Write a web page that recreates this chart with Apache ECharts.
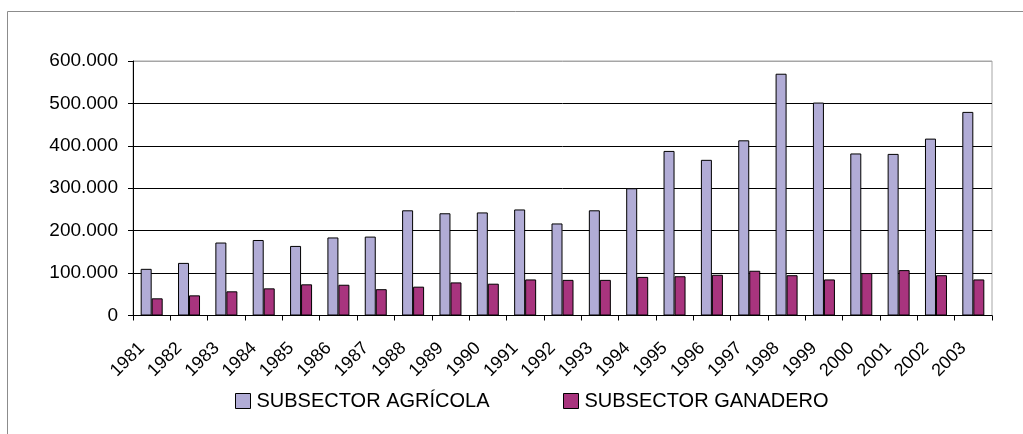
<!DOCTYPE html>
<html>
<head>
<meta charset="utf-8">
<script src="https://cdn.jsdelivr.net/npm/echarts@6/dist/echarts.min.js"></script>
<style>
html,body{margin:0;padding:0;background:#fff;}
#c{width:1023px;height:434px;}
</style>
</head>
<body>
<div id="c"></div>
<script>
const years = ['1981','1982','1983','1984','1985','1986','1987','1988','1989','1990','1991','1992','1993','1994','1995','1996','1997','1998','1999','2000','2001','2002','2003'];
const agricola = [110000,124000,172000,178000,164000,184000,186000,248000,241000,243000,250000,217000,248000,300000,388000,367000,413000,570000,502000,382000,381000,417000,480000];
const ganadero = [40500,47500,57000,64000,73500,72500,62000,68000,78000,75000,85000,84000,84000,91000,92500,96000,105500,95000,85000,100000,107000,95000,85000];
const yTicks = [0,100000,200000,300000,400000,500000,600000];
const seriesNames = ['SUBSECTOR AGRÍCOLA','SUBSECTOR GANADERO'];

function fmt(v){
  if (v === 0) return '0';
  return String(v).replace(/\B(?=(\d{3})+(?!\d))/g, '.');
}

const chart = echarts.init(document.getElementById('c'), null, {renderer:'canvas'});
const FONT = 'Liberation Sans, Arial, sans-serif';
const legendCommon = {
  padding:0, itemWidth:15, itemHeight:15, itemGap:5, icon:'rect',
  itemStyle:{borderColor:'#000',borderWidth:1},
  textStyle:{fontSize:20,color:'#000',fontFamily:FONT,padding:[0,0,0,1]}
};
chart.setOption({
  animation:false,
  backgroundColor:'#fff',
  textStyle:{fontFamily:FONT},
  graphic:[{
    type:'rect', silent:true, z:-10,
    shape:{x:7.5,y:11.5,width:1100,height:600},
    style:{fill:null, stroke:'#8c8c8c', lineWidth:1}
  }],
  grid:{left:133,top:61,right:31,bottom:118.5,show:true,borderColor:'#a6a6a6',borderWidth:1,backgroundColor:'transparent'},
  legend:[
    Object.assign({data:[seriesNames[0]], left:235, top:391}, legendCommon),
    Object.assign({data:[seriesNames[1]], left:563, top:391}, legendCommon)
  ],
  xAxis:{
    type:'category', data:years,
    axisLine:{lineStyle:{color:'#000',width:1}},
    axisTick:{show:true,length:5,lineStyle:{color:'#000'}},
    axisLabel:{rotate:45,margin:20,padding:[0,14,0,0],fontSize:18,color:'#000',fontFamily:FONT,interval:0}
  },
  yAxis:{
    type:'value', min:0, max:600000, interval:100000,
    axisLine:{show:true,lineStyle:{color:'#000',width:1}},
    axisTick:{show:true,length:5,lineStyle:{color:'#000'}},
    axisLabel:{fontSize:19,color:'#000',margin:15,fontFamily:FONT,formatter:fmt},
    splitLine:{show:true,lineStyle:{color:['#000','#000','#000','#000','#000','#000','#a6a6a6'],width:1}}
  },
  series:[
    {name:seriesNames[0], type:'bar', data:agricola, barWidth:11, barGap:'0%',
     itemStyle:{color:'#b1acd6',borderColor:'#000',borderWidth:1}},
    {name:seriesNames[1], type:'bar', data:ganadero, barWidth:11, barGap:'0%',
     itemStyle:{color:'#a8347e',borderColor:'#000',borderWidth:1}}
  ]
});
</script>
</body>
</html>
